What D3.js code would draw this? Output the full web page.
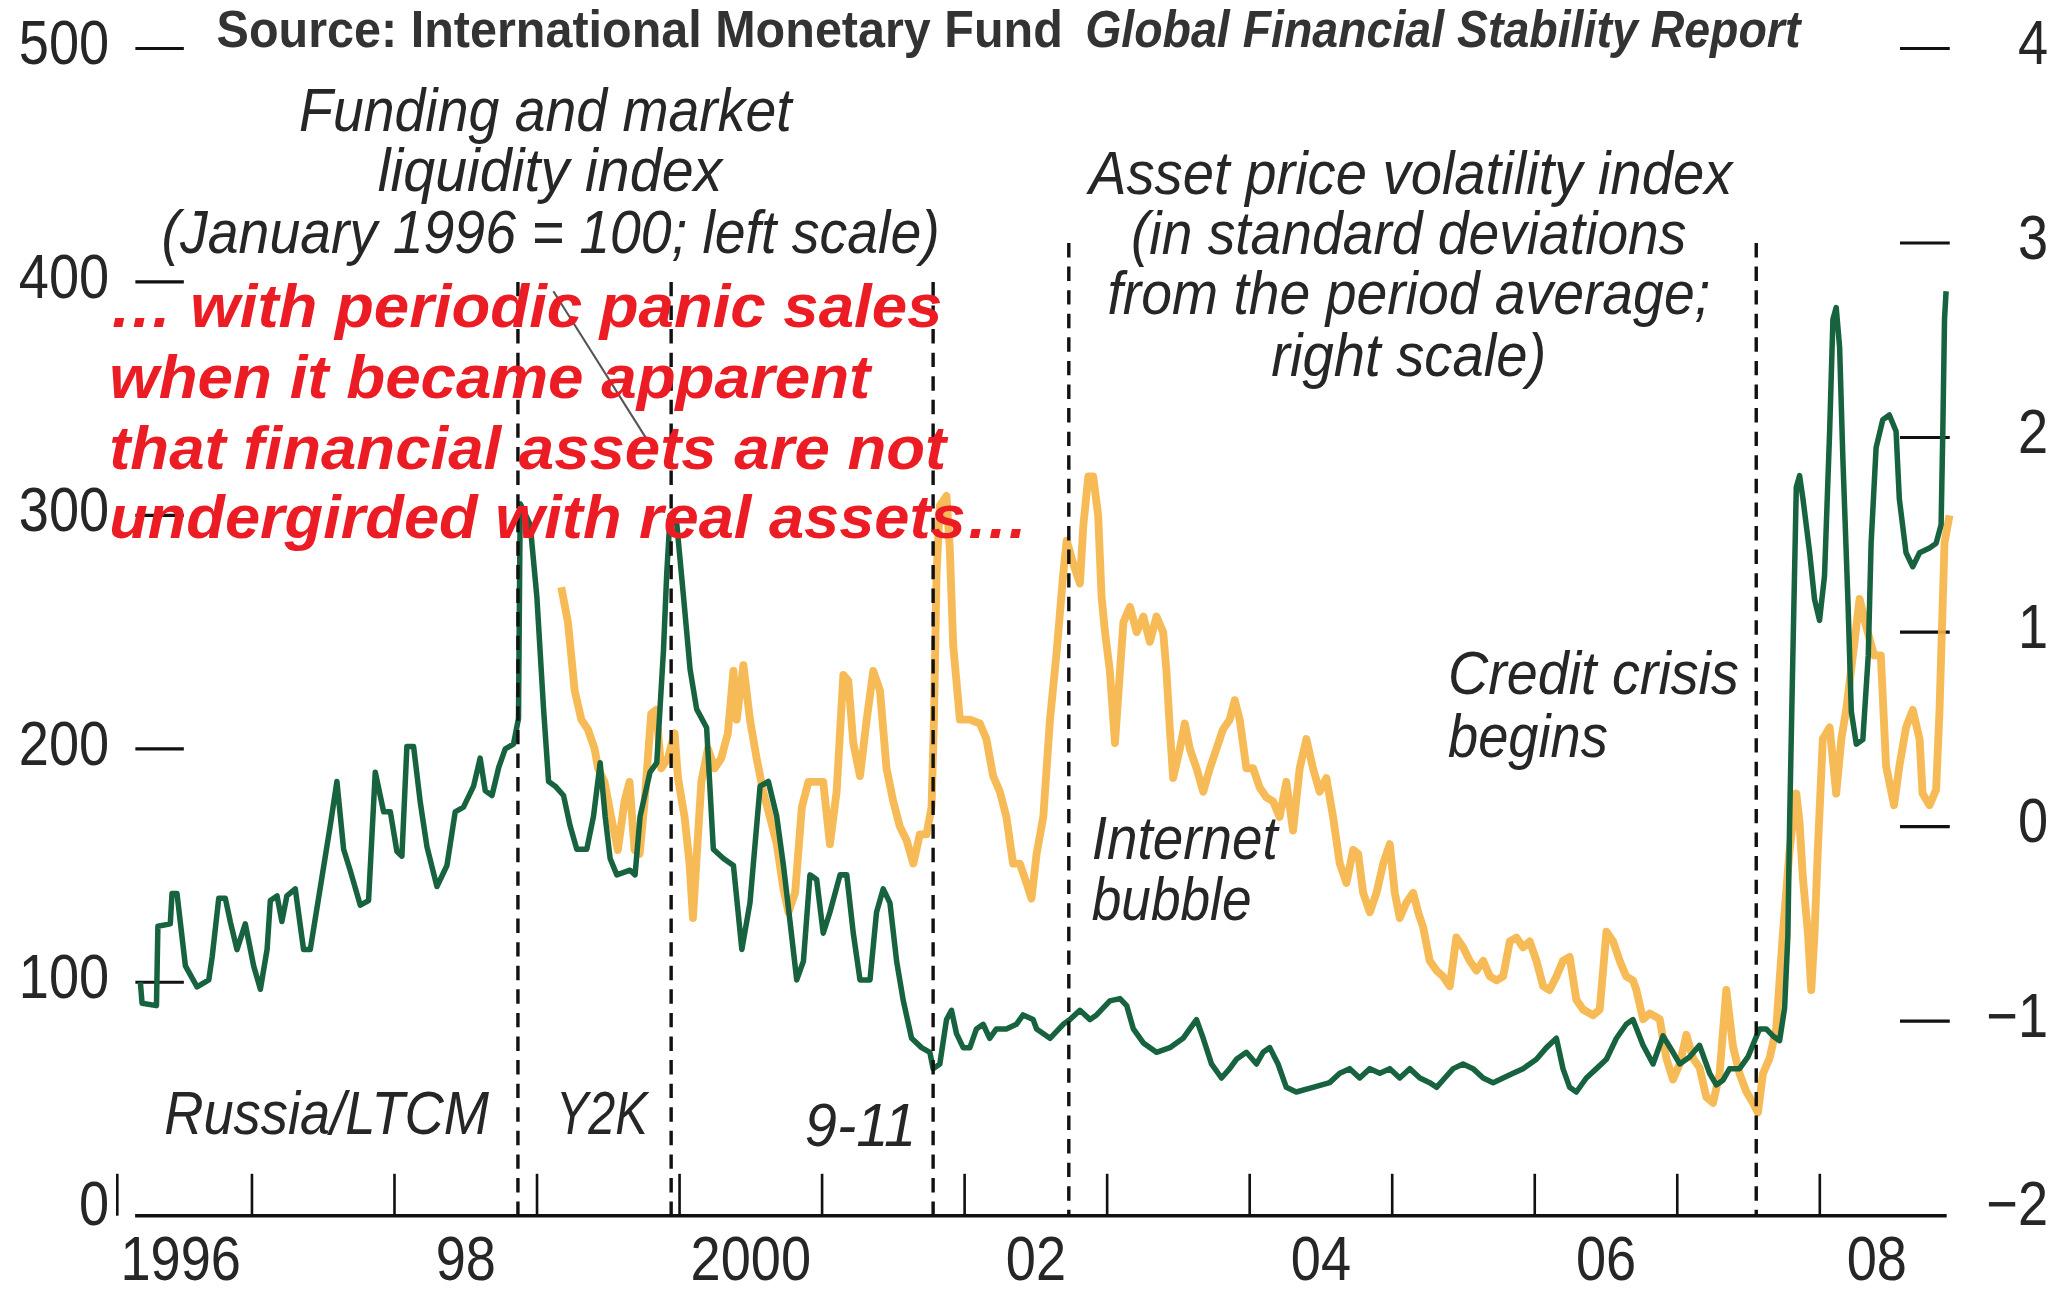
<!DOCTYPE html>
<html>
<head>
<meta charset="utf-8">
<script src="https://cdn.jsdelivr.net/npm/d3@7"></script>
<style>
body{margin:0;background:#fff}
svg{display:block}
</style>
</head>
<body>
<svg></svg>
<script>

// funding and market liquidity index (Jan 1996 = 100), left scale
var liquidity = [
[1996.217,100],[1996.229,91],[1996.330,90],[1996.340,124],[1996.427,125],[1996.439,138],[1996.474,138],[1996.533,107],[1996.615,98],[1996.697,101],[1996.721,111],[1996.767,136],[1996.813,136],[1996.848,126],[1996.895,114],[1996.953,125],[1997.012,107],[1997.059,97],[1997.106,114],[1997.129,135],[1997.176,137],[1997.210,126],[1997.245,137],[1997.304,140],[1997.362,114],[1997.409,114],[1997.491,145],[1997.549,167],[1997.596,186],[1997.643,157],[1997.689,148],[1997.760,133],[1997.818,135],[1997.865,190],[1997.924,173],[1997.971,173],[1998.017,156],[1998.052,154],[1998.087,201],[1998.134,201],[1998.181,177],[1998.228,158],[1998.298,141],[1998.368,150],[1998.426,173],[1998.484,175],[1998.555,184],[1998.601,196],[1998.637,182],[1998.684,180],[1998.731,192],[1998.777,200],[1998.835,202],[1998.870,213],[1998.882,305],[1998.952,296],[1998.999,265],[1999.046,217],[1999.081,186],[1999.128,184],[1999.186,180],[1999.232,167],[1999.279,157],[1999.349,157],[1999.396,171],[1999.443,194],[1999.478,171],[1999.513,153],[1999.560,146],[1999.653,148],[1999.688,146],[1999.723,171],[1999.793,190],[1999.840,194],[1999.887,242],[1999.910,275],[1999.934,300],[1999.981,296],[2000.028,265],[2000.074,234],[2000.120,217],[2000.190,209],[2000.237,157],[2000.308,153],[2000.378,150],[2000.437,114],[2000.494,134],[2000.565,184],[2000.623,186],[2000.682,171],[2000.729,150],[2000.775,126],[2000.822,101],[2000.869,109],[2000.915,146],[2000.962,144],[2001.008,121],[2001.055,130],[2001.126,146],[2001.173,146],[2001.219,121],[2001.266,101],[2001.336,101],[2001.382,130],[2001.429,140],[2001.476,134],[2001.523,109],[2001.570,92],[2001.628,76],[2001.698,72],[2001.756,70],[2001.779,63],[2001.826,65],[2001.873,84],[2001.908,88],[2001.943,78],[2001.990,72],[2002.037,72],[2002.083,80],[2002.130,82],[2002.176,76],[2002.223,80],[2002.293,80],[2002.363,82],[2002.410,86],[2002.481,84],[2002.505,80],[2002.599,76],[2002.692,82],[2002.739,84],[2002.809,88],[2002.880,84],[2002.926,86],[2003.019,92],[2003.090,93],[2003.137,90],[2003.184,80],[2003.254,74],[2003.346,70],[2003.440,72],[2003.533,76],[2003.580,80],[2003.627,84],[2003.674,76],[2003.732,65],[2003.802,59],[2003.860,63],[2003.907,67],[2003.977,70],[2004.048,65],[2004.094,70],[2004.141,72],[2004.199,65],[2004.257,55],[2004.327,53],[2004.444,55],[2004.561,57],[2004.632,61],[2004.702,63],[2004.772,59],[2004.843,63],[2004.913,61],[2004.983,63],[2005.053,59],[2005.123,63],[2005.194,59],[2005.263,57],[2005.311,55],[2005.369,59],[2005.428,63],[2005.497,65],[2005.567,63],[2005.638,59],[2005.708,57],[2005.778,59],[2005.848,61],[2005.918,63],[2005.965,65],[2006.012,67],[2006.082,72],[2006.152,76],[2006.198,63],[2006.245,55],[2006.292,53],[2006.362,59],[2006.433,63],[2006.503,67],[2006.573,76],[2006.642,82],[2006.689,84],[2006.760,73],[2006.830,65],[2006.900,77],[2006.970,70],[2007.017,65],[2007.086,68],[2007.156,73],[2007.227,61],[2007.274,56],[2007.320,58],[2007.367,63],[2007.437,63],[2007.496,68],[2007.543,75],[2007.577,80],[2007.624,80],[2007.671,77],[2007.718,75],[2007.753,89],[2007.776,120],[2007.788,168],[2007.811,240],[2007.835,312],[2007.858,317],[2007.882,307],[2007.929,284],[2007.963,264],[2007.998,255],[2008.033,274],[2008.069,336],[2008.092,384],[2008.115,389],[2008.139,372],[2008.162,324],[2008.197,264],[2008.221,216],[2008.256,202],[2008.302,204],[2008.340,240],[2008.360,288],[2008.395,329],[2008.442,341],[2008.488,343],[2008.535,336],[2008.558,307],[2008.605,284],[2008.652,278],[2008.700,284],[2008.770,286],[2008.816,288],[2008.851,296],[2008.863,336],[2008.875,384],[2008.886,396]
]

// asset price volatility index (standard deviations), right scale
var volatility = [
[1999.170,1.23],[1999.217,1.05],[1999.264,0.70],[1999.311,0.55],[1999.357,0.50],[1999.404,0.40],[1999.428,0.30],[1999.474,0.23],[1999.520,0.05],[1999.567,-0.12],[1999.614,0.13],[1999.649,0.23],[1999.684,-0.12],[1999.720,-0.14],[1999.755,0.13],[1999.801,0.58],[1999.836,0.60],[1999.871,0.30],[1999.918,0.35],[1999.965,0.48],[1999.989,0.25],[2000.035,0.05],[2000.070,-0.19],[2000.094,-0.47],[2000.117,-0.19],[2000.153,0.23],[2000.199,0.40],[2000.246,0.30],[2000.292,0.35],[2000.339,0.48],[2000.378,0.80],[2000.401,0.55],[2000.448,0.83],[2000.494,0.55],[2000.541,0.35],[2000.587,0.18],[2000.634,0.05],[2000.682,-0.09],[2000.729,-0.32],[2000.764,-0.44],[2000.811,-0.34],[2000.858,0.10],[2000.904,0.23],[2000.962,0.23],[2001.008,0.23],[2001.055,-0.09],[2001.102,0.18],[2001.149,0.78],[2001.184,0.75],[2001.219,0.43],[2001.266,0.26],[2001.313,0.55],[2001.359,0.80],[2001.406,0.70],[2001.452,0.30],[2001.499,0.13],[2001.546,0.00],[2001.593,-0.07],[2001.640,-0.19],[2001.686,-0.04],[2001.733,-0.04],[2001.768,0.10],[2001.785,0.55],[2001.803,1.30],[2001.826,1.65],[2001.873,1.70],[2001.896,1.43],[2001.920,0.93],[2001.967,0.55],[2002.037,0.55],[2002.107,0.53],[2002.153,0.45],[2002.200,0.26],[2002.247,0.18],[2002.293,0.05],[2002.340,-0.19],[2002.387,-0.19],[2002.434,-0.29],[2002.469,-0.37],[2002.505,-0.14],[2002.552,0.05],[2002.599,0.55],[2002.646,0.90],[2002.692,1.30],[2002.716,1.47],[2002.763,1.35],[2002.809,1.25],[2002.833,1.55],[2002.868,1.80],[2002.902,1.80],[2002.937,1.60],[2002.961,1.18],[2002.985,1.00],[2003.019,0.80],[2003.055,0.43],[2003.090,0.80],[2003.114,1.05],[2003.160,1.13],[2003.207,1.00],[2003.254,1.08],[2003.300,0.95],[2003.346,1.08],[2003.393,1.00],[2003.416,0.80],[2003.440,0.50],[2003.463,0.25],[2003.510,0.40],[2003.545,0.53],[2003.580,0.40],[2003.627,0.30],[2003.674,0.18],[2003.721,0.30],[2003.767,0.40],[2003.813,0.50],[2003.860,0.55],[2003.895,0.65],[2003.930,0.55],[2003.977,0.30],[2004.024,0.30],[2004.071,0.20],[2004.118,0.15],[2004.164,0.13],[2004.210,0.05],[2004.257,0.23],[2004.304,-0.02],[2004.351,0.30],[2004.398,0.45],[2004.444,0.30],[2004.491,0.18],[2004.538,0.25],[2004.585,0.05],[2004.632,-0.19],[2004.679,-0.29],[2004.726,-0.12],[2004.761,-0.14],[2004.796,-0.34],[2004.843,-0.44],[2004.890,-0.34],[2004.937,-0.19],[2004.983,-0.09],[2005.018,-0.34],[2005.053,-0.47],[2005.100,-0.39],[2005.147,-0.34],[2005.182,-0.44],[2005.218,-0.52],[2005.263,-0.69],[2005.311,-0.74],[2005.357,-0.77],[2005.404,-0.82],[2005.450,-0.57],[2005.497,-0.62],[2005.544,-0.69],[2005.591,-0.74],[2005.638,-0.69],[2005.685,-0.77],[2005.732,-0.79],[2005.778,-0.77],[2005.825,-0.59],[2005.871,-0.57],[2005.918,-0.62],[2005.965,-0.59],[2006.012,-0.69],[2006.059,-0.82],[2006.104,-0.84],[2006.152,-0.77],[2006.198,-0.69],[2006.245,-0.67],[2006.292,-0.89],[2006.339,-0.94],[2006.409,-0.97],[2006.456,-0.94],[2006.503,-0.54],[2006.550,-0.59],[2006.596,-0.69],[2006.642,-0.77],[2006.689,-0.79],[2006.713,-0.84],[2006.760,-0.99],[2006.807,-0.96],[2006.877,-0.99],[2006.923,-1.19],[2006.970,-1.30],[2007.017,-1.22],[2007.064,-1.07],[2007.110,-1.19],[2007.157,-1.24],[2007.204,-1.39],[2007.251,-1.42],[2007.297,-1.27],[2007.344,-0.84],[2007.391,-1.13],[2007.437,-1.27],[2007.483,-1.36],[2007.531,-1.42],[2007.566,-1.47],[2007.601,-1.27],[2007.648,-1.19],[2007.694,-1.04],[2007.741,-0.55],[2007.788,-0.12],[2007.835,0.17],[2007.858,0.02],[2007.882,-0.27],[2007.917,-0.55],[2007.940,-0.84],[2007.963,-0.55],[2007.986,-0.12],[2008.021,0.45],[2008.069,0.51],[2008.115,0.17],[2008.151,0.45],[2008.185,0.60],[2008.232,0.88],[2008.279,1.17],[2008.325,1.03],[2008.381,0.88],[2008.428,0.88],[2008.465,0.31],[2008.521,0.11],[2008.558,0.31],[2008.605,0.51],[2008.652,0.60],[2008.700,0.45],[2008.721,0.17],[2008.770,0.11],[2008.816,0.19],[2008.840,0.60],[2008.875,1.46],[2008.910,1.60]
]

var events = [1998.866, 1999.941, 2001.779, 2002.731, 2007.554]
var leftTicks = [0, 100, 200, 300, 400, 500]
var rightTicks = [-2, -1, 0, 1, 2, 3, 4]
var rightTickLabels = ["\u22122", "\u22121", "0", "1", "2", "3", "4"]
var yearTicks = d3.range(1996, 2009)
var yearLabels = ["1996", "98", "2000", "02", "04", "06", "08"]
var yearLabelAt = [1996.5, 1998.5, 2000.5, 2002.5, 2004.5, 2006.5, 2008.4]

var screen = {width: 2055, height: 1293}
var font = "'Liberation Sans', Arial, Helvetica, sans-serif"

var svg = d3.select("svg")
    .attr("width", screen.width)
    .attr("height", screen.height)
    .attr("viewBox", "0 0 1568 987")

var x = d3.scaleLinear().domain([1996, 2008]).range([83.2, 1388.8])
var yLeft = d3.scaleLinear().domain([0, 500]).range([928, 37])
var yRight = d3.scaleLinear().domain([-2, 4]).range([928, 37])

// one text element, each line squeezed to its width like the condensed face of the original
// lines: [string, x, baseline, width, italic]
var block = function(g, lines, size, opts)
{
    opts = opts || {}
    var t = g.append("text")
        .attr("font-family", font)
        .attr("font-size", size)
        .attr("font-weight", opts.bold ? "bold" : "normal")
        .attr("font-style", opts.italic ? "italic" : "normal")
        .attr("fill", opts.color || "#262626")
    lines.forEach(function(l){
        t.append("tspan")
            .attr("x", l[1])
            .attr("y", l[2])
            .attr("textLength", l[3])
            .attr("lengthAdjust", "spacingAndGlyphs")
            .attr("font-style", l[4] ? "italic" : null)
            .text(l[0])
    })
    return t
}

// condensed tick label
var tickLabel = function(g, str, x0, y0, anchor)
{
    g.append("text")
        .attr("transform", "translate(" + x0 + "," + y0 + ") scale(0.87,1)")
        .attr("text-anchor", anchor)
        .attr("font-family", font)
        .attr("font-size", 47.5)
        .attr("fill", "#262626")
        .text(str)
}

// axes
var axes = svg.append("g")

axes.append("line")
    .attr("x1", x(1996.18)).attr("x2", x(2008.89))
    .attr("y1", yLeft(0)).attr("y2", yLeft(0))
    .attr("stroke", "#111").attr("stroke-width", 2.6)

axes.selectAll(".xtick")
    .data(yearTicks)
    .enter()
    .append("line")
    .attr("x1", function(d){return x(d) + (d == 1996 ? 6 : 0)})
    .attr("x2", function(d){return x(d) + (d == 1996 ? 6 : 0)})
    .attr("y1", yLeft(0))
    .attr("y2", yLeft(0) - 32)
    .attr("stroke", "#111").attr("stroke-width", 2)

yearLabels.forEach(function(t, i){
    tickLabel(axes, t, x(yearLabelAt[i]), 977, "middle")
})

axes.selectAll(".ltick")
    .data(leftTicks.filter(function(d){return d > 0}))
    .enter()
    .append("line")
    .attr("x1", 103).attr("x2", 140)
    .attr("y1", function(d){return yLeft(d)})
    .attr("y2", function(d){return yLeft(d)})
    .attr("stroke", "#111").attr("stroke-width", 2.4)

leftTicks.forEach(function(d){
    tickLabel(axes, String(d), 83, yLeft(d) + 12 - (d == 0 ? 5 : 0), "end")
})

axes.selectAll(".rtick")
    .data(rightTicks.filter(function(d){return d > -2}))
    .enter()
    .append("line")
    .attr("x1", 1450).attr("x2", 1488)
    .attr("y1", function(d){return yRight(d)})
    .attr("y2", function(d){return yRight(d)})
    .attr("stroke", "#111").attr("stroke-width", 2.4)

rightTicks.forEach(function(d, i){
    tickLabel(axes, rightTickLabels[i], 1563, yRight(d) + 12 - (d == -2 ? 5 : 0), "end")
})

// series
var volLine = d3.line()
    .x(function(d){return x(d[0])})
    .y(function(d){return yRight(d[1])})

var liqLine = d3.line()
    .x(function(d){return x(d[0])})
    .y(function(d){return yLeft(d[1])})

svg.append("path")
    .datum(volatility)
    .attr("d", volLine)
    .attr("fill", "none")
    .attr("stroke", "#f5b444")
    .attr("stroke-width", 6)
    .attr("stroke-linejoin", "round")
    .attr("opacity", 0.9)

svg.append("path")
    .datum(liquidity)
    .attr("d", liqLine)
    .attr("fill", "none")
    .attr("stroke", "#17623f")
    .attr("stroke-width", 4.2)
    .attr("stroke-linejoin", "round")

// event markers
svg.selectAll(".event")
    .data(events)
    .enter()
    .append("line")
    .attr("x1", function(d){return x(d)})
    .attr("x2", function(d){return x(d)})
    .attr("y1", function(d, i){return i < 3 ? yLeft(400) : yRight(3)})
    .attr("y2", yLeft(0))
    .attr("stroke", "#111")
    .attr("stroke-width", 2.6)
    .attr("stroke-dasharray", "11,7")

// annotations
var notes = svg.append("g")

notes.append("line")
    .attr("x1", x(1999.115)).attr("y1", yLeft(396))
    .attr("x2", x(1999.776)).attr("y2", yLeft(332))
    .attr("stroke", "#555").attr("stroke-width", 1.6)

block(notes, [
    ["Source: International Monetary Fund", 165, 36, 646],
    ["Global Financial Stability Report", 828, 36, 546, true]
], 39, {bold: true, color: "#333"})

block(notes, [
    ["Funding and market", 228, 100, 376],
    ["liquidity index", 288, 146, 263],
    ["(January 1996 = 100; left scale)", 123, 193, 594]
], 46, {italic: true})

block(notes, [
    ["Asset price volatility index", 831, 148, 491],
    ["(in standard deviations", 863, 194, 424],
    ["from the period average;", 845, 240, 460],
    ["right scale)", 970, 287, 210]
], 46, {italic: true})

block(notes, [
    ["Credit crisis", 1105, 530, 222],
    ["begins", 1105, 578, 122]
], 46, {italic: true})

block(notes, [
    ["Internet", 833, 656, 142],
    ["bubble", 833, 702, 122]
], 46, {italic: true})

block(notes, [["Russia/LTCM", 125, 866, 248]], 46, {italic: true})
block(notes, [["Y2K", 424, 866, 70]], 46, {italic: true})
block(notes, [["9-11", 614, 875, 85]], 46, {italic: true})

block(notes, [
    ["\u2026 with periodic panic sales", 83, 250, 636],
    ["when it became apparent", 83, 304, 581],
    ["that financial assets are not", 83, 358, 639],
    ["undergirded with real assets\u2026", 83, 411, 702]
], 46, {bold: true, italic: true, color: "#ec1c24"})

</script>
</body>
</html>
